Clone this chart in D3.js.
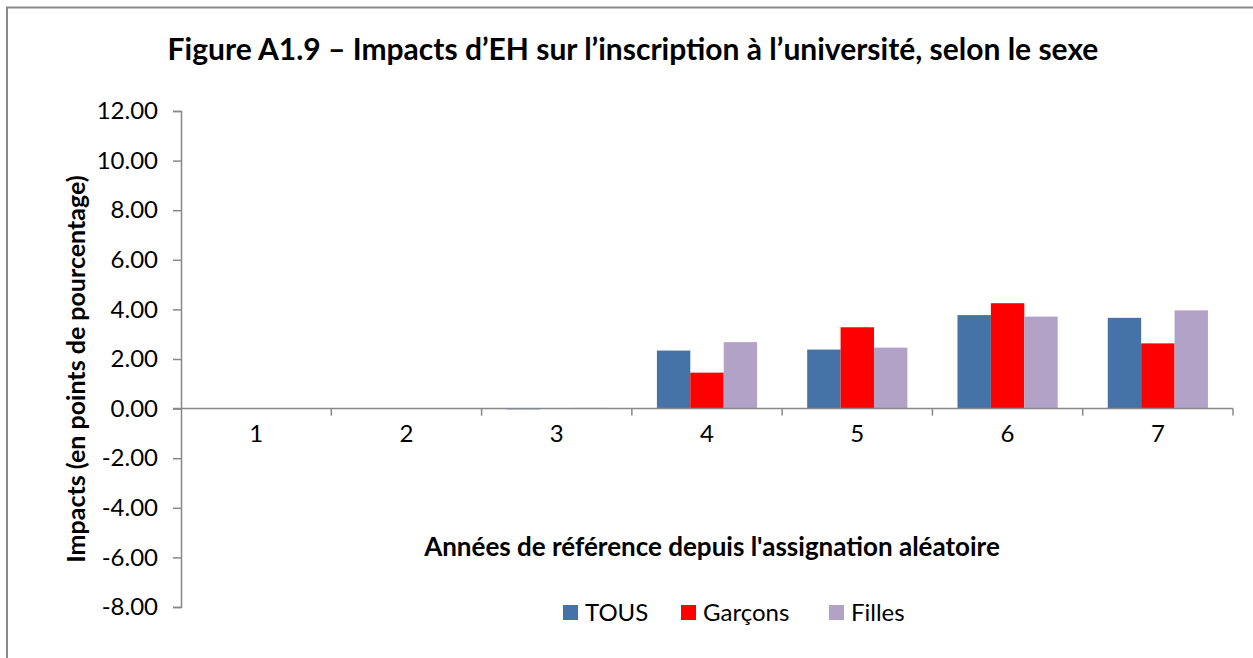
<!DOCTYPE html>
<html>
<head>
<meta charset="utf-8">
<script src="https://cdn.jsdelivr.net/npm/d3@7"></script>
<style>
  body { margin: 0; background: #fff; }
  svg text { font-family: Lato, 'Open Sans', sans-serif; fill: #000; }
</style>
</head>
<body>
<svg id="chart" width="1253" height="658"></svg>
<script>
const years = ['1', '2', '3', '4', '5', '6', '7'];
const seriesNames = ['TOUS', 'Garçons', 'Filles'];
const tous = [0, 0, -0.03, 2.34, 2.38, 3.77, 3.66];
const garcons = [0, 0, -0.01, 1.45, 3.28, 4.25, 2.63];
const filles = [0, 0, 0.03, 2.68, 2.46, 3.71, 3.96];
const yTicks = [-8, -6, -4, -2, 0, 2, 4, 6, 8, 10, 12];

const colors = ['#4572a7', '#ff0000', '#b2a2c8'];
const seriesValues = [tous, garcons, filles];

const conf = {
  left: 181,
  right: 1233,
  top: 111,
  bottom: 607
};

const svg = d3.select('#chart');

// outer frame (runs off the right/bottom edge like the source)
svg.append('rect')
  .attr('x', 7)
  .attr('y', 7.5)
  .attr('width', 1260)
  .attr('height', 700)
  .attr('fill', 'none')
  .attr('stroke', '#8a8a8a')
  .attr('stroke-width', 2);

const x = d3.scaleBand()
  .domain(years)
  .range([conf.left, conf.right])
  .paddingInner(1 / 3)
  .paddingOuter(1 / 6);

const xSub = d3.scaleBand()
  .domain(seriesNames)
  .range([0, x.bandwidth()]);

const y = d3.scaleLinear()
  .domain([-8, 12])
  .range([conf.bottom, conf.top]);

const axisColor = '#888';
// plain hyphen for negatives, like the original
const fmt = d => d.toFixed(2);

// y axis
const yAxis = svg.append('g')
  .attr('transform', 'translate(' + conf.left + ',0)')
  .call(d3.axisLeft(y).tickValues(yTicks).tickFormat(fmt).tickSize(8).tickPadding(15));
yAxis.select('.domain').attr('stroke', axisColor).attr('stroke-width', 1.5);
yAxis.selectAll('.tick line').attr('stroke', axisColor).attr('stroke-width', 1.5);
yAxis.selectAll('.tick text')
  .attr('font-size', 24)
  .attr('font-family', 'Lato, sans-serif')
  .attr('fill', '#000');

// bars
years.forEach((yr, i) => {
  seriesNames.forEach((s, j) => {
    const v = seriesValues[j][i];
    svg.append('rect')
      .attr('x', x(yr) + xSub(s))
      .attr('y', y(Math.max(0, v)))
      .attr('width', xSub.bandwidth())
      .attr('height', Math.abs(y(v) - y(0)))
      .attr('fill', colors[j]);
  });
});

// x axis on zero line
const step = x.step();
svg.append('line')
  .attr('x1', conf.left - 8)
  .attr('x2', conf.right)
  .attr('y1', y(0))
  .attr('y2', y(0))
  .attr('stroke', axisColor)
  .attr('stroke-width', 1.5);

years.forEach((yr, i) => {
  const bx = conf.left + step * (i + 1);
  svg.append('line')
    .attr('x1', bx)
    .attr('x2', bx)
    .attr('y1', y(0))
    .attr('y2', y(0) + 7)
    .attr('stroke', axisColor)
    .attr('stroke-width', 1.5);
  svg.append('text')
    .attr('x', x(yr) + x.bandwidth() / 2)
    .attr('y', y(0) + 33)
    .attr('text-anchor', 'middle')
    .attr('font-size', 24)
    .text(yr);
});

// title
svg.append('text')
  .attr('x', 633)
  .attr('y', 60)
  .attr('text-anchor', 'middle')
  .attr('font-size', 30)
  .attr('font-weight', 'bold')
  .text('Figure A1.9 – Impacts d’EH sur l’inscription à l’université, selon le sexe');

// axis titles
svg.append('text')
  .attr('transform', 'translate(85,369) rotate(-90)')
  .attr('text-anchor', 'middle')
  .attr('font-size', 25)
  .attr('font-weight', 'bold')
  .text('Impacts (en points de pourcentage)');

svg.append('text')
  .attr('x', 712)
  .attr('y', 556)
  .attr('text-anchor', 'middle')
  .attr('font-size', 26)
  .attr('font-weight', 'bold')
  .text('Années de référence depuis l\'assignation aléatoire');

// legend
const legendX = [563, 681, 829];
seriesNames.forEach((s, j) => {
  const g = svg.append('g').attr('transform', 'translate(' + legendX[j] + ',605)');
  g.append('rect')
    .attr('width', 15)
    .attr('height', 15)
    .attr('fill', colors[j]);
  g.append('text')
    .attr('x', 22)
    .attr('y', 16)
    .attr('font-size', 24)
    .text(s);
});
</script>
</body>
</html>
